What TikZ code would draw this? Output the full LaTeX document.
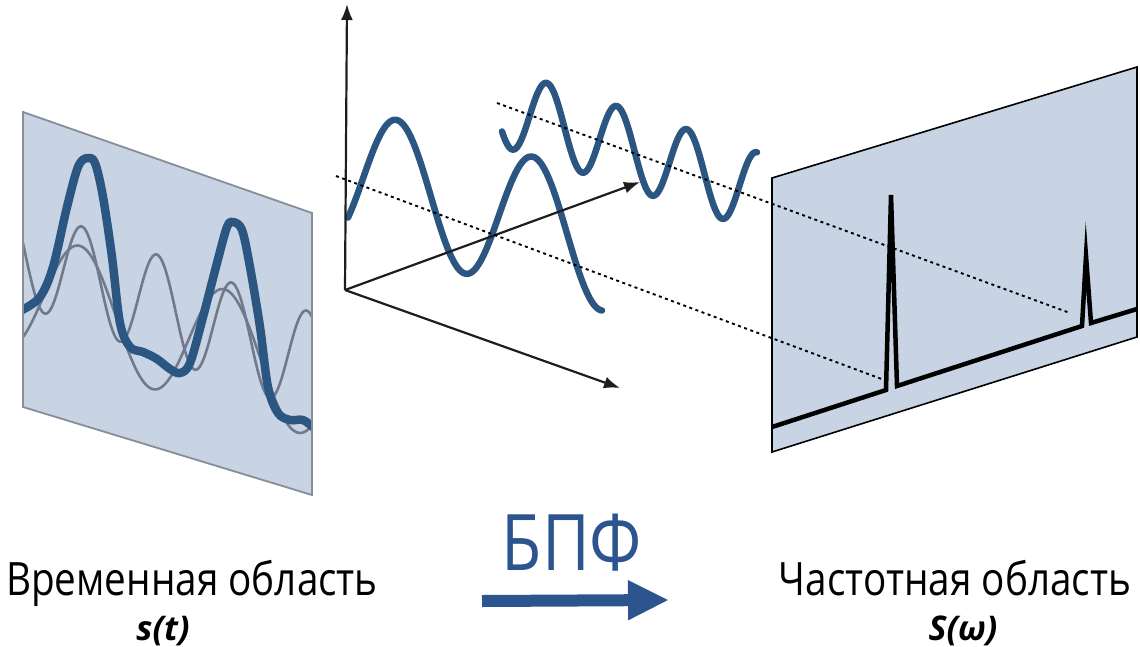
\documentclass[tikz,border=0pt]{standalone}
\usepackage{fontspec}
\setmainfont{Open Sans}
\newfontfamily\lab{Open Sans}[FakeStretch=0.84]
\usetikzlibrary{arrows.meta}
\definecolor{wave}{RGB}{44,86,130}
\definecolor{thingray}{RGB}{112,122,140}
\definecolor{panel}{RGB}{200,211,227}
\definecolor{paneledge}{RGB}{135,142,152}
\definecolor{fftblue}{RGB}{44,84,142}
\definecolor{axis}{RGB}{30,30,30}
\tikzset{
  thickwave/.style={draw=wave, line width=8.5pt, line cap=round, line join=round},
  thinwave/.style={draw=thingray, line width=2.6pt, line cap=round},
  centerwave/.style={draw=wave, line width=6.5pt, line cap=round, line join=round},
  axisarrow/.style={draw=axis, line width=2.2pt, -{Latex[length=16pt,width=12pt]}},
  dottedline/.style={draw=black, line width=1.9pt, dash pattern=on 3pt off 3.5pt},
  spectrum/.style={draw=black, line width=4.5pt, line join=miter, miter limit=30},
  label/.style={font=\lab\fontsize{46}{50}\selectfont, anchor=base, inner sep=0pt},
  sublabel/.style={font=\fontsize{34}{36}\selectfont\bfseries\itshape, anchor=base, inner sep=0pt}
}
\begin{document}
\begin{tikzpicture}[x=1pt,y=-1pt]
\useasboundingbox (0,0) rectangle (1140,646);
\fill[white] (0,0) rectangle (1140,646);

% ---------- left panel (time domain) ----------
\coordinate (LTL) at (23,112);
\coordinate (LTR) at (312,213);
\coordinate (LBR) at (312,495);
\coordinate (LBL) at (23,407);
\fill[panel] (LTL) -- (LTR) -- (LBR) -- (LBL) -- cycle;
\begin{scope}
  \clip (LTL) -- (LTR) -- (LBR) -- (LBL) -- cycle;
  \draw[thinwave] plot[domain=20:316, samples=200]
    (\x, {305.7 + 0.3*(\x-77) - 60.7*cos(2.48276*(\x-80))});
  \draw[thinwave] plot[domain=20:316, samples=200]
    (\x, {318.25 + 0.374*(\x-192.25) - 50.5*cos(4.8*(\x-82))});
  \draw[thickwave] plot[smooth, tension=0.55] coordinates {
    (22,310) (40,297) (53,267) (67,207) (78,167) (87,158) (95,163)
    (103,197) (112,257) (120,323) (130,347) (143,352) (157,359)
    (170,369) (180,373) (190,363) (203,317) (217,263) (227,227)
    (233,222) (242,230) (250,267) (260,327) (268,387) (278,413)
    (290,420) (303,420) (314,428)};
\end{scope}
\draw[paneledge, line width=1.8pt, line join=miter] (LTL) -- (LTR) -- (LBR) -- (LBL) -- cycle;

% ---------- centre: axes and two sinusoids ----------
\coordinate (O) at (345,290);
\coordinate (Ytop) at (347,4);
\coordinate (Zend) at (640,182);
\coordinate (Xend) at (620,388);

\draw[centerwave] plot[domain=348:602, samples=160]
  (\x, {174.4 + 0.27*(\x-348) - 67.6*cos(2.64706*(\x-397))});
\draw[centerwave] plot[domain=502:757, samples=200]
  (\x, {122 + 0.33*(\x-547) - 39*cos(5.142857*(\x-547))});

\draw[axisarrow] (O) -- (Ytop);
\draw[axisarrow] (O) -- (Zend);
\draw[axisarrow] (O) -- (Xend);

% ---------- right panel (frequency domain) ----------
\coordinate (RTL) at (772,178);
\coordinate (RTR) at (1137,67);
\coordinate (RBR) at (1137,337);
\coordinate (RBL) at (772,452);
\fill[panel] (RTL) -- (RTR) -- (RBR) -- (RBL) -- cycle;
\draw[black, line width=1.6pt, line join=miter] (RTL) -- (RTR) -- (RBR) -- (RBL) -- cycle;

\coordinate (S0) at (772,427);
\coordinate (P1a) at (886,390);
\coordinate (P1) at (891,195);
\coordinate (P1b) at (897,386);
\coordinate (P2a) at (1082,326);
\coordinate (P2) at (1086,256);
\coordinate (P2b) at (1091,323);
\coordinate (S1) at (1137,309);
\draw[spectrum] (S0) -- (P1a) -- (P1) -- (P1b) -- (P2a) -- (P2) -- (P2b) -- (S1);

% ---------- projection dotted lines ----------
\coordinate (D1s) at (336,176);
\coordinate (D1e) at (887,381);
\coordinate (D2s) at (497,103);
\coordinate (D2e) at (1070,313);
\draw[dottedline] (D1s) -- (D1e);
\draw[dottedline] (D2s) -- (D2e);

% ---------- labels ----------
\node[label] (time) at (192,595) {Временная область};
\node[sublabel] (st) at (163,640) {s(t)};
\node[label] (freq) at (955,595) {Частотная область};
\node[sublabel] (sw) at (963,640) {S(ω)};
\node[font=\lab\fontsize{78}{80}\selectfont, text=fftblue, anchor=base, inner sep=0pt] (fft) at (572,570) {БПФ};
\coordinate (A0) at (482,601);
\coordinate (A1) at (669,600);
\draw[fftblue, line width=12pt, -{Triangle[length=41pt,width=37pt]}] (A0) -- (A1);
\end{tikzpicture}
\end{document}
